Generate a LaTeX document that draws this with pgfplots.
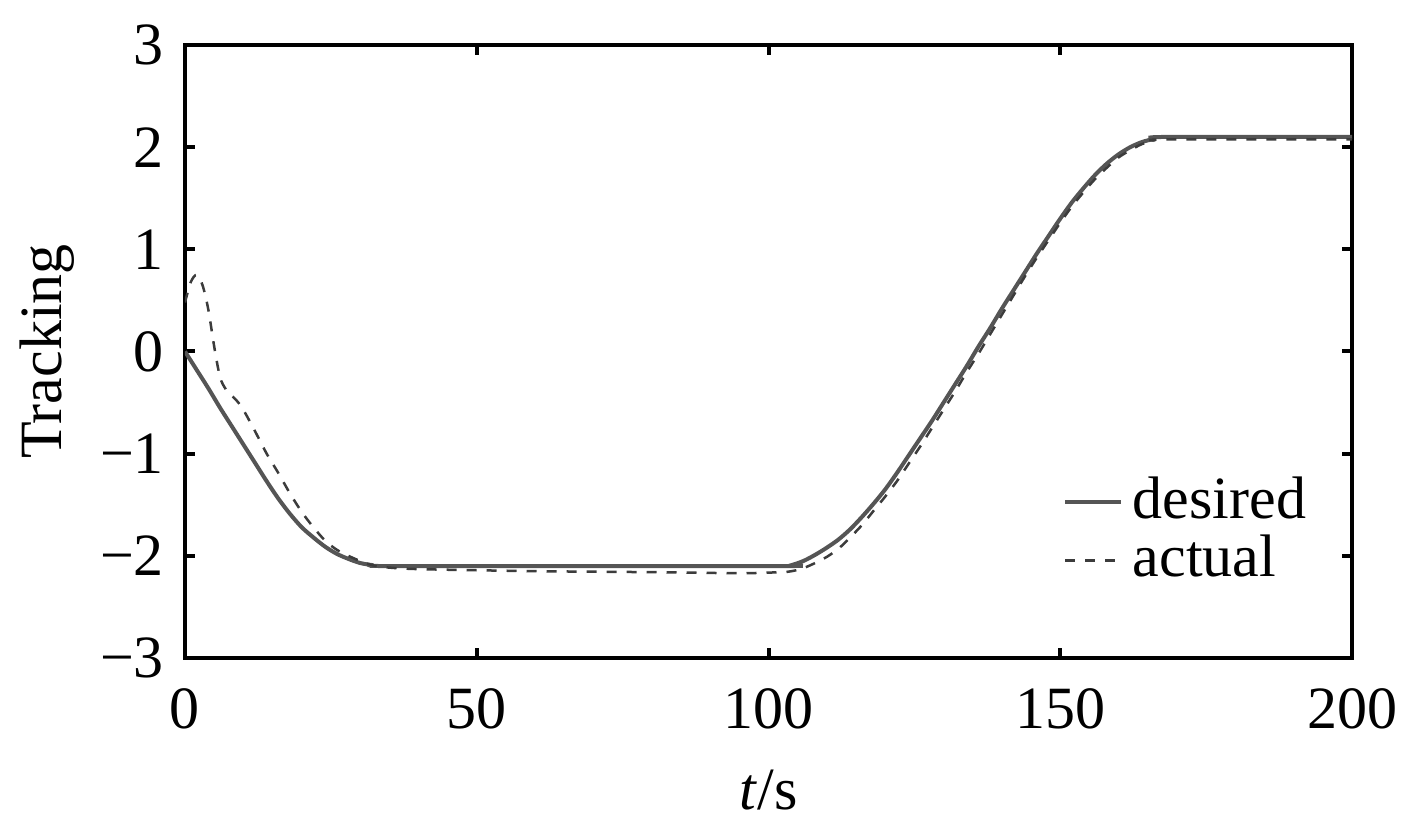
\documentclass[border=0pt]{standalone}
\usepackage{fontspec}
\setmainfont{Liberation Serif}
\usepackage{pgfplots}
\pgfplotsset{compat=1.18}
\definecolor{desc}{RGB}{85,85,85}
\definecolor{actc}{RGB}{60,60,60}
\begin{document}
\fontsize{12}{14}\selectfont
\begin{tikzpicture}
\begin{axis}[
  scale only axis,
  width=233.4pt, height=122.6pt,
  xmin=0, xmax=200, ymin=-3, ymax=3,
  xtick={0,50,100,150,200},
  ytick={-3,-2,-1,0,1,2,3},
  yticklabels={−3,−2,−1,0,1,2,3},
  /pgf/number format/assume math mode=true,
  tick align=inside,
  tick pos=both,
  major tick length=2pt,
  axis line style={line width=0.8pt},
  every tick/.style={black, line width=0.8pt},
  tick label style={font=\fontsize{12}{14}\selectfont},
  xticklabel style={yshift=-2pt},
  xlabel={\textit{t}/s},
  ylabel={Tracking},
  label style={font=\fontsize{12}{14}\selectfont},
  xlabel style={at={(axis description cs:0.5,-0.215)}, anchor=center},
  ylabel style={at={(axis description cs:-0.118,0.5)}, anchor=center},
  legend style={draw=none, fill=none, at={(axis description cs:0.97,0.10)}, anchor=south east,
    font=\fontsize{12}{14}\selectfont, row sep=-2.5pt, inner sep=0pt},
  legend cell align=left,
  legend image code/.code={\draw[#1] (0cm,0cm) -- (0.39cm,0cm);},
]
\addplot[desc, line width=0.8pt, smooth] coordinates {
(0,0) (2,-0.18) (4,-0.36) (6,-0.55) (8,-0.73) (10,-0.91) (12,-1.09) (14,-1.27) (16,-1.44)
(18,-1.59) (20,-1.72) (22,-1.82) (24,-1.91) (26,-1.98) (28,-2.03) (30,-2.07) (32,-2.09) (34,-2.10)
(60,-2.10) (103,-2.10) (104,-2.09) (106,-2.05) (108,-1.99) (110,-1.92) (112,-1.84) (114,-1.74)
(116,-1.62) (118,-1.49) (120,-1.35) (122,-1.19) (124,-1.02) (126,-0.85) (128,-0.68) (130,-0.50)
(132,-0.32) (134,-0.14) (136,0.05) (138,0.23) (140,0.42) (142,0.60) (144,0.78) (146,0.96)
(148,1.13) (150,1.30) (152,1.46) (154,1.60) (156,1.73) (158,1.84) (160,1.93) (162,2.00)
(164,2.05) (166,2.08) (168,2.10) (200,2.10)
};
\addlegendentry{desired}
\addplot[actc, line width=0.5pt, dash pattern=on 2pt off 2pt, smooth] coordinates {
(0,0.48) (1,0.68) (2,0.75) (3,0.65) (4,0.41) (5,0.05) (6,-0.25) (7,-0.37) (8,-0.43) (9,-0.49)
(10,-0.57) (12,-0.78) (14,-1.00) (16,-1.19) (18,-1.39) (20,-1.57) (22,-1.72) (24,-1.85)
(26,-1.94) (28,-2.00) (30,-2.05) (32,-2.09) (34,-2.11) (40,-2.13) (60,-2.15) (80,-2.16)
(95,-2.17) (102,-2.16) (104,-2.15) (106,-2.12) (108,-2.07) (110,-2.01) (112,-1.93) (114,-1.82)
(116,-1.70) (118,-1.56) (120,-1.42) (122,-1.27) (124,-1.10) (126,-0.93) (128,-0.75) (130,-0.57)
(132,-0.39) (134,-0.20) (136,-0.02) (138,0.17) (140,0.36) (142,0.55) (144,0.74) (146,0.92)
(148,1.09) (150,1.26) (152,1.42) (154,1.56) (156,1.69) (158,1.80) (160,1.90) (162,1.97)
(164,2.03) (166,2.06) (168,2.075) (200,2.075)
};
\addlegendentry{actual}
\end{axis}
\path (current axis.south west) ++(-37pt,-33.8pt);
\path (current axis.north east) ++(13pt,9pt);
\end{tikzpicture}
\end{document}
